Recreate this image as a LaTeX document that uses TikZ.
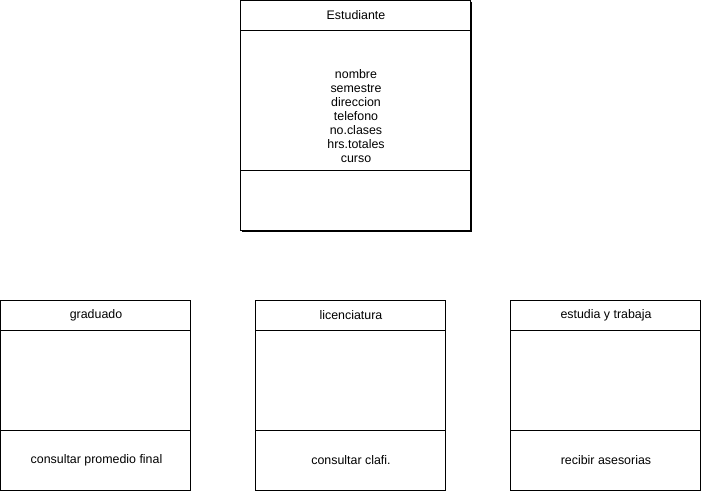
\documentclass[tikz,border=0pt]{standalone}
\usepackage{fontspec}
\setmainfont{Liberation Sans}
\begin{document}
\begin{tikzpicture}[x=1pt,y=-1pt,
  box/.style={draw=black,line width=1pt},
  lbl/.style={font=\fontsize{12.4}{14}\selectfont,align=center,inner sep=0pt}]
\useasboundingbox (0,0) rectangle (701,491);
% Estudiante
\draw[box] (240.5,0.5) rectangle (470.5,230.5);
\draw[line width=1pt] (471.5,1.5) -- (471.5,231.5) -- (241.5,231.5);
\draw[box] (240.5,30.5) -- (470.5,30.5);
\draw[box] (240.5,170.5) -- (470.5,170.5);
\node[lbl] (est) at (356,15.5) {Estudiante};
\node[lbl] (estattr) at (356,116.5) {nombre\\semestre\\ direccion\\telefono\\no.clases\\hrs.totales\\curso};
% graduado
\draw[box] (0.5,300.5) rectangle (190.5,490);
\draw[box] (0.5,330.5) -- (190.5,330.5);
\draw[box] (0.5,430.5) -- (190.5,430.5);
\node[lbl] (grad) at (96,315.5) {graduado};
\node[lbl] (gradm) at (96.5,460.5) {consultar promedio final};
% licenciatura
\draw[box] (255.5,300.5) rectangle (445.5,490);
\draw[box] (255.5,330.5) -- (445.5,330.5);
\draw[box] (255.5,430.5) -- (445.5,430.5);
\node[lbl] (lic) at (351,315.5) {licenciatura};
\node[lbl] (licm) at (351,460.5) {consultar clafi.};
% estudia y trabaja
\draw[box] (510.5,300.5) rectangle (700.5,490);
\draw[box] (510.5,330.5) -- (700.5,330.5);
\draw[box] (510.5,430.5) -- (700.5,430.5);
\node[lbl] (eyt) at (606,315.5) {estudia y trabaja};
\node[lbl] (eytm) at (606,460.5) {recibir asesorias};
\end{tikzpicture}
\end{document}
